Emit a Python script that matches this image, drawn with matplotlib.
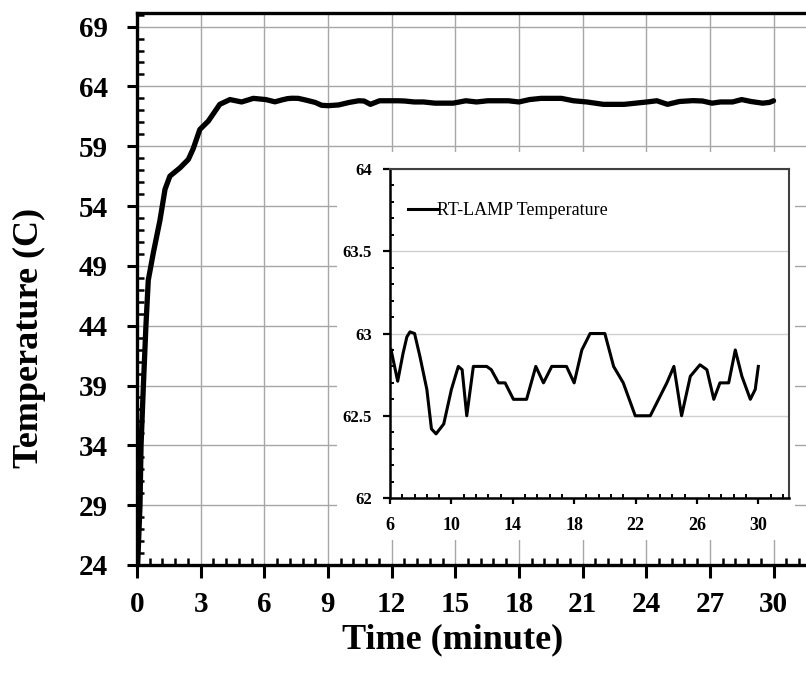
import numpy as np
import matplotlib.pyplot as plt
from matplotlib.ticker import MultipleLocator, FixedLocator
from matplotlib.patches import Rectangle

plt.rcParams['font.family'] = ['Liberation Serif', 'DejaVu Serif']

# heating ramp
t_rise = [0.03, 0.14, 0.19, 0.3, 0.42, 0.53, 0.77, 1.08, 1.32, 1.55, 2.03, 2.42,
          2.65, 2.96, 3.36, 3.9, 4.38, 4.93, 5.48]
T_rise = [24.0, 29.0, 34.0, 39.0, 44.0, 47.8, 50.1, 52.8, 55.4, 56.5, 57.2, 57.9,
          58.8, 60.4, 61.1, 62.5, 62.9, 62.7, 63.0]

# holding phase
t_hold = [6.07, 6.5, 6.85, 7.1, 7.3, 7.6, 7.95, 8.4, 8.7, 9.0, 9.5, 10.0, 10.45,
          10.7, 11.0, 11.43, 12.3, 12.6, 13.07, 13.5, 14.04, 14.9, 15.5, 16.0,
          16.54, 17.5, 18.0, 18.5, 19.04, 19.6, 20.0, 20.57, 21.2, 21.98, 22.5,
          22.96, 24.04, 24.5, 25.0, 25.57, 26.2, 26.65, 27.1, 27.5, 28.07, 28.5,
          28.93, 29.48, 29.8, 30.0]
T_hold = [62.9, 62.71, 62.88, 62.98, 63.01, 63.0, 62.86, 62.66, 62.42, 62.39,
          62.45, 62.66, 62.8, 62.78, 62.5, 62.8, 62.8, 62.78, 62.7, 62.7, 62.6,
          62.6, 62.8, 62.7, 62.8, 62.8, 62.7, 62.9, 63.0, 63.0, 63.0, 62.8, 62.7,
          62.5, 62.5, 62.5, 62.7, 62.8, 62.5, 62.74, 62.81, 62.78, 62.6, 62.7,
          62.7, 62.9, 62.74, 62.6, 62.66, 62.8]

main_xticks = np.arange(0, 31, 3)
main_yticks = np.arange(24, 70, 5)
inset_xticks = np.arange(6, 31, 4)
inset_yticks = [62, 62.5, 63, 63.5, 64]

fig = plt.figure(figsize=(8.06, 6.75), dpi=100)

# main chart
ax = fig.add_axes([0.170, 0.163, 0.830, 0.818])
ax.plot(t_rise + t_hold, T_rise + T_hold, color='black', lw=3.8,
        solid_joinstyle='round', solid_capstyle='round', zorder=3)
ax.set_xlim(0, 31.53)
ax.set_ylim(24, 70.15)
ax.set_xticks(main_xticks)
ax.set_yticks(main_yticks)
ax.xaxis.set_minor_locator(MultipleLocator(0.6))
ax.yaxis.set_minor_locator(MultipleLocator(1))
ax.grid(True, which='major', color='#a6a6a6', lw=1.0)
ax.set_axisbelow(True)
for s in ['left', 'bottom', 'top']:
    ax.spines[s].set_linewidth(2.4)
ax.spines['right'].set_visible(False)
ax.tick_params(axis='x', which='major', direction='out', length=9, width=2.2,
               pad=10, labelsize=21)
ax.tick_params(axis='y', which='major', direction='out', length=7, width=2.2,
               pad=14, labelsize=21)
ax.tick_params(which='minor', direction='in', length=5, width=1.8)
for lab in ax.get_xticklabels() + ax.get_yticklabels():
    lab.set_fontweight('bold')

fig.text(0.561, 0.052, 'Time (minute)', ha='center', va='center',
         fontsize=26, fontweight='bold')
fig.text(0.036, 0.50, 'Temperature (C)', ha='center', va='center',
         rotation=90, fontsize=26, fontweight='bold')

# white area behind the inset chart
fig.add_artist(Rectangle((0.418, 0.200), 0.568, 0.575, transform=fig.transFigure,
                         facecolor='white', edgecolor='none', zorder=1))

# inset chart
ins = fig.add_axes([0.4839, 0.2622, 0.495, 0.4874], zorder=2)
ins.plot(t_hold, T_hold, color='black', lw=2.2, solid_joinstyle='round',
         label='RT-LAMP Temperature')
ins.set_xlim(6, 32)
ins.set_ylim(62, 64)
ins.set_xticks(inset_xticks)
ins.set_yticks(inset_yticks)
ins.set_yticklabels(['62', '62.5', '63', '63.5', '64'])
ins.xaxis.set_minor_locator(FixedLocator(np.arange(6, 32.01, 0.8)))
ins.yaxis.set_minor_locator(MultipleLocator(0.1))
ins.grid(True, axis='y', which='major', color='#d0d0d0', lw=1.0)
ins.set_axisbelow(True)
for s in ['left', 'bottom']:
    ins.spines[s].set_linewidth(1.8)
for s in ['top', 'right']:
    ins.spines[s].set_linewidth(1.5)
    ins.spines[s].set_color('#404040')
ins.tick_params(axis='x', which='major', direction='out', length=4, width=1.6,
                pad=10, labelsize=13)
ins.tick_params(axis='y', which='major', direction='out', length=5, width=1.6,
                pad=8, labelsize=12)
ins.tick_params(which='minor', direction='in', length=3, width=1.4)
for lab in ins.get_xticklabels() + ins.get_yticklabels():
    lab.set_fontweight('bold')
ins.legend(loc='upper left', bbox_to_anchor=(0.0, 0.955), frameon=False,
           fontsize=13, handlelength=1.6, handletextpad=0.0, borderaxespad=0.6)

fig.savefig('out.png', dpi=100)
